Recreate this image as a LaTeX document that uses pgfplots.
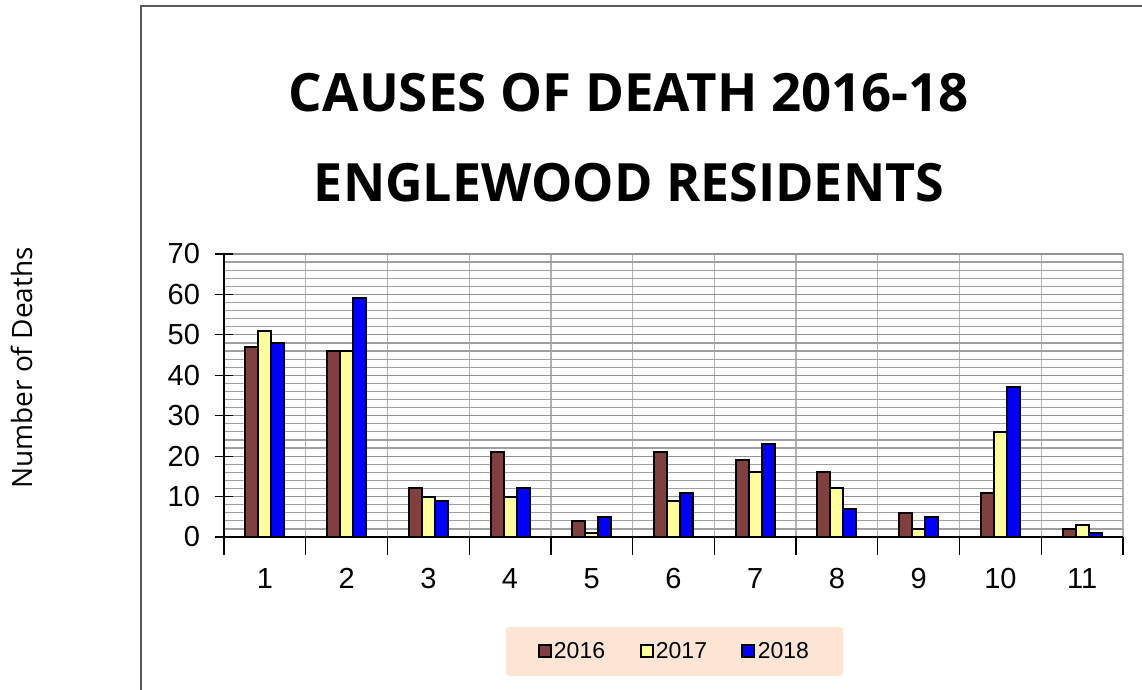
\documentclass[border=0pt]{standalone}
\usepackage{pgfplots}
\pgfplotsset{compat=1.18}
\usepackage{fontspec}
\setmainfont{Liberation Sans}
\newfontfamily\titlefont{Open Sans}
\definecolor{c16}{RGB}{128,64,64}
\definecolor{c17}{RGB}{255,255,153}
\definecolor{c18}{RGB}{0,0,255}
\definecolor{peach}{RGB}{253,229,214}
\definecolor{framec}{RGB}{90,90,90}
\pgfplotstableread{
cat y16 y17 y18
1 47 51 48
2 46 46 59
3 12 10 9
4 21 10 12
5 4 1 5
6 21 9 11
7 19 16 23
8 16 12 7
9 6 2 5
10 11 26 37
11 2 3 1
}\deaths
\begin{document}
\begin{tikzpicture}[x=1pt,y=1pt]
\path[use as bounding box] (0,0) rectangle (571,345);
\draw[framec, line width=0.6pt] (70.5,0) -- (70.5,342) -- (571,342);
\node[font=\titlefont\bfseries\fontsize{26.4}{32}\selectfont, anchor=base] at (314.5,289) {CAUSES OF DEATH 2016-18};
\node[font=\titlefont\bfseries\fontsize{26.4}{32}\selectfont, anchor=base, xscale=0.985] at (314.5,244) {ENGLEWOOD RESIDENTS};
\node[font=\titlefont\fontsize{14}{17}\selectfont, rotate=90] at (11,161) {Number of Deaths};
\begin{axis}[
  at={(112pt,76.5pt)}, anchor=south west,
  scale only axis, width=449.5pt, height=141.5pt,
  xmin=0.5, xmax=11.5, ymin=0, ymax=70,
  axis x line*=bottom, axis y line*=left,
  axis line style={black, line width=0.6pt, -},
  xtick={1,...,11},
  minor xtick={0.5,1.5,...,11.5},
  ytick={0,10,...,70},
  minor ytick={2,4,...,68},
  tick align=center,
  major tick length=9pt, minor tick length=9pt,
  major x tick style={draw=none},
  minor x tick style={black, line width=0.6pt},
  major y tick style={black, line width=0.6pt},
  minor y tick style={draw=none},
  xminorgrids=true, ymajorgrids=true, yminorgrids=true,
  minor x grid style={gray!60, line width=0.6pt},
  major y grid style={gray!85, line width=0.6pt},
  minor y grid style={gray!75, line width=0.6pt},
  ticklabel style={font=\fontsize{14.5}{17}\selectfont},
  /pgf/number format/assume math mode=true,
  xticklabel style={yshift=-3pt},
  yticklabel style={xshift=-4pt},
  ybar=0pt, bar width=6.5pt,
  legend columns=3,
  legend image code/.code={\draw[#1, sharp corners, line width=1pt] (0pt,-3pt) rectangle (6pt,3pt);},
  legend style={at={(0.5011,-0.4046)}, anchor=center, fill=peach, draw=none,
    rounded corners=2pt, inner xsep=16pt, inner ysep=5.5pt,
    font=\fontsize{11.5}{13}\selectfont,
    nodes={inner xsep=1.2pt},
    /tikz/every even column/.append style={column sep=16pt}},
]
\addplot[fill=c16, draw=black, line width=1pt] table[x=cat,y=y16] {\deaths};
\addplot[fill=c17, draw=black, line width=1pt] table[x=cat,y=y17] {\deaths};
\addplot[fill=c18, draw=black, line width=1pt] table[x=cat,y=y18] {\deaths};
\legend{2016,2017,2018}
\end{axis}
\end{tikzpicture}
\end{document}
